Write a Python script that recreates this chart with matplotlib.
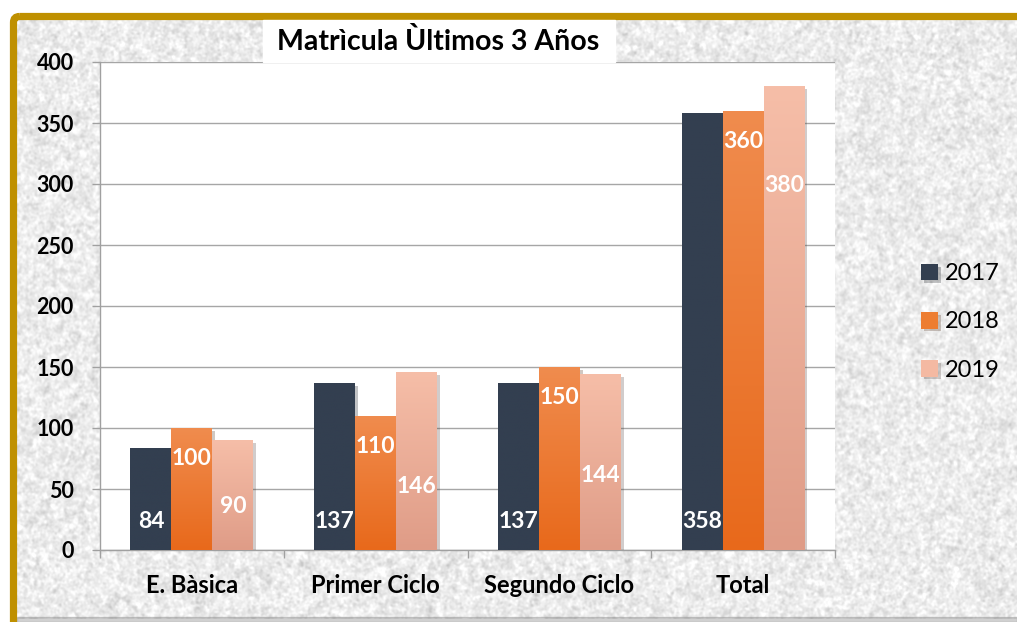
import numpy as np
import matplotlib.pyplot as plt
from matplotlib.colors import LinearSegmentedColormap
from matplotlib.patches import Rectangle, FancyBboxPatch
import matplotlib.patheffects as pe

plt.rcParams['font.family'] = ['Lato', 'DejaVu Sans']

categories = ['E. Bàsica', 'Primer Ciclo', 'Segundo Ciclo', 'Total']
years = ['2017', '2018', '2019']
v2017 = [84, 137, 137, 358]
v2018 = [100, 110, 150, 360]
v2019 = [90, 146, 144, 380]
yticks = [0, 50, 100, 150, 200, 250, 300, 350, 400]

W, H = 1017, 622
fig = plt.figure(figsize=(W / 100, H / 100), dpi=100)
fig.patch.set_facecolor('white')

def fx(x):
    return x / W

def fy(y):
    return 1 - y / H

# granite-like background texture
bg = fig.add_axes([0, 0, 1, 1], zorder=-10)
bg.set_xlim(0, W)
bg.set_ylim(H, 0)
bg.axis('off')
rng = np.random.default_rng(7)
th, tw = 600, 1000

def blur(a, s):
    fy_, fx_ = np.meshgrid(np.fft.fftfreq(a.shape[0]), np.fft.fftfreq(a.shape[1]), indexing='ij')
    g = np.exp(-2 * (np.pi * s) ** 2 * (fx_ ** 2 + fy_ ** 2))
    return np.real(np.fft.ifft2(np.fft.fft2(a) * g))

tex = 0.6 * blur(rng.standard_normal((th, tw)), 2.0) + 0.4 * blur(rng.standard_normal((th, tw)), 1.0)
tex = (tex - tex.mean()) / tex.std()
tex = np.clip(0.925 + 0.035 * tex, 0.78, 1.0)
bg.imshow(tex, cmap='gray', vmin=0, vmax=1, extent=(17, 1017, 619, 20), aspect='auto', interpolation='bilinear')
bg.add_patch(Rectangle((17, 617), 1000, 5, color='#8a8a8a', alpha=0.4))
bg.add_patch(FancyBboxPatch((13.5, 16.5), 1040, 640, boxstyle='round,pad=0,rounding_size=6',
                            fill=False, ec='#BF9000', lw=5.2))

# main chart
ax = fig.add_axes([fx(100), fy(550), fx(835) - fx(100), fy(62) - fy(550)])
ax.set_facecolor('white')

x = np.arange(len(categories))
bw = 0.223
series = [v2017, v2018, v2019]
solid = ['#333F50', '#ED7D31', '#F4B9A2']
grads = [('#333F50', '#333F50'), ('#E8691B', '#F08C4E'), ('#DF9C87', '#F6BEA8')]
shadow = [pe.SimplePatchShadow(offset=(2, -2), alpha=0.25), pe.Normal()]

for i, (vals, c, g) in enumerate(zip(series, solid, grads)):
    bars = ax.bar(x + (i - 1) * bw, vals, bw, color=c, label=years[i], zorder=3,
                  path_effects=shadow)
    cm = LinearSegmentedColormap.from_list('g%d' % i, list(g))
    for b in bars:
        x0, w, h = b.get_x(), b.get_width(), b.get_height()
        im = ax.imshow(np.linspace(0, 1, 256).reshape(-1, 1), cmap=cm, origin='lower',
                       extent=(x0, x0 + w, 0, h), aspect='auto', zorder=3.5)
        im.set_clip_path(b)

ax.set_xlim(-0.5, 3.5)
ax.set_ylim(0, 400)

# data labels
lab_2017 = [23] * 4
lab_2018 = [v - 25 for v in v2018]
lab_2019 = [36, 52, 61, 299]
for i, (vals, ys) in enumerate(zip(series, [lab_2017, lab_2018, lab_2019])):
    for xi, v, yy in zip(x, vals, ys):
        ax.text(xi + (i - 1) * bw, yy, str(v), ha='center', va='center', color='white',
                fontsize=16.5, fontweight='bold', zorder=6)

ax.set_yticks(yticks)
ax.set_xticks(x)
ax.set_xticklabels(categories)
ax.set_xticks(np.arange(-0.5, 4, 1), minor=True)
ax.tick_params(axis='x', which='major', length=0, pad=17, labelsize=17)
ax.tick_params(axis='x', which='minor', length=6, color='#A0A0A0', width=1)
ax.tick_params(axis='y', length=6, color='#A0A0A0', width=1, pad=13, labelsize=15.5)
for lbl in ax.get_xticklabels() + ax.get_yticklabels():
    lbl.set_fontweight('bold')
ax.grid(axis='y', color='#A6A6A6', lw=1, zorder=0)
ax.set_axisbelow(True)
for s in ['top', 'right']:
    ax.spines[s].set_visible(False)
for s in ['left', 'bottom']:
    ax.spines[s].set_color('#A0A0A0')
    ax.spines[s].set_linewidth(1)

# title in white box
fig.add_artist(Rectangle((fx(263), fy(62)), fx(615) - fx(263), fy(20) - fy(62),
                         transform=fig.transFigure, color='white', zorder=20))
fig.text(fx(438), fy(42), 'Matrìcula Ùltimos 3 Años', ha='center', va='center',
         fontsize=20.5, fontweight='bold', zorder=21)

leg = fig.legend(handles=ax.containers, labels=years, loc='center left',
                 bbox_to_anchor=(fx(900), fy(322)), frameon=False, fontsize=17,
                 handlelength=0.7, handleheight=0.7, handletextpad=0.3, labelspacing=1.15)

fig.savefig('out.png', dpi=100)
